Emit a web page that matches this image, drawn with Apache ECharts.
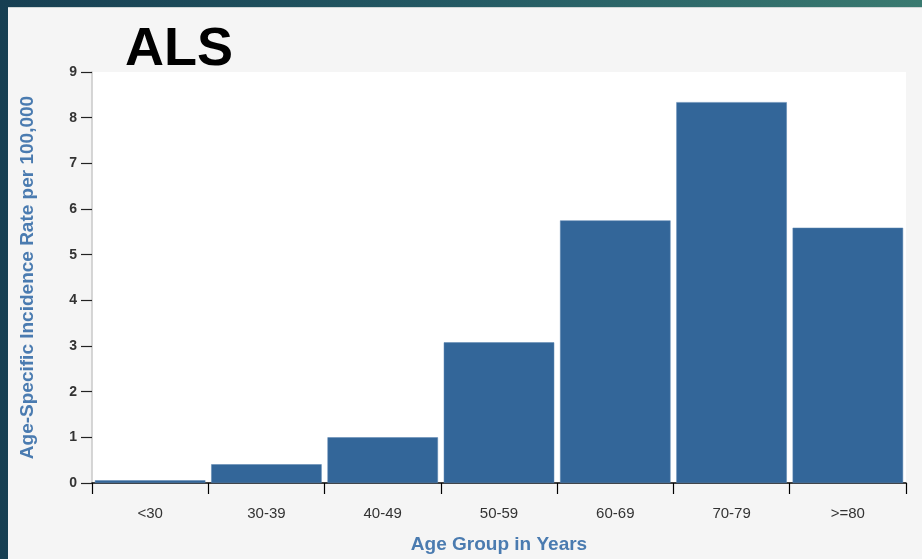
<!DOCTYPE html>
<html>
<head>
<meta charset="utf-8">
<script src="https://cdn.jsdelivr.net/npm/echarts@6/dist/echarts.min.js"></script>
<style>
html,body{margin:0;padding:0;width:922px;height:559px;overflow:hidden;}
body{background:linear-gradient(90deg,#173f52 0%,#245a64 50%,#3a7a70 100%);}
#panel{position:absolute;left:8px;top:7px;width:914px;height:552px;background:#f5f5f5;border-top:1px solid #cfd6d6;}
#chart{position:absolute;left:0;top:0;width:922px;height:559px;}
</style>
</head>
<body>
<div id="panel"></div>
<div id="chart"></div>
<script>
const categories = ['<30','30-39','40-49','50-59','60-69','70-79','>=80'];
const rates = [0.06, 0.41, 1.0, 3.08, 5.75, 8.34, 5.59];
const yTicks = [0,1,2,3,4,5,6,7,8,9];

const chart = echarts.init(document.getElementById('chart'), null, {renderer:'canvas'});
const font = '"Liberation Sans", Arial, Helvetica, sans-serif';
chart.setOption({
  backgroundColor: 'transparent',
  animation: false,
  textStyle: {fontFamily: font},
  title: {
    text: 'ALS', left: 120, top: 18,
    textStyle: {fontSize: 54, fontWeight: 'bold', color: '#000', fontFamily: font}
  },
  grid: {left: 92, right: 16, top: 72, bottom: 76, show: true, backgroundColor: '#ffffff', borderWidth: 0, outerBoundsMode: 'none', containLabel: false},
  xAxis: {
    type: 'category',
    data: categories,
    name: 'Age Group in Years',
    nameLocation: 'middle',
    nameGap: 52,
    nameTextStyle: {fontSize: 19, fontWeight: 'bold', color: '#4a7bb0', fontFamily: font},
    axisLine: {lineStyle: {color: '#000', width: 1.5}},
    axisTick: {show: true, alignWithLabel: false, length: 11, lineStyle: {color: '#000', width: 1.2}},
    axisLabel: {fontSize: 15, color: '#333', margin: 23, fontFamily: font}
  },
  yAxis: {
    type: 'value',
    min: yTicks[0], max: yTicks[yTicks.length-1], interval: 1,
    name: 'Age-Specific Incidence Rate per 100,000',
    nameLocation: 'middle',
    nameGap: 55,
    nameTextStyle: {fontSize: 19, fontWeight: 'bold', color: '#4a7bb0', fontFamily: font},
    axisLine: {show: true, lineStyle: {color: '#c8c8c8', width: 1.5}},
    axisTick: {show: true, length: 11, lineStyle: {color: '#222', width: 1.2}},
    axisLabel: {fontSize: 14, fontWeight: 'bold', color: '#333', margin: 15, fontFamily: font},
    splitLine: {show: false}
  },
  series: [{
    type: 'bar',
    data: rates,
    barCategoryGap: '5%',
    itemStyle: {color: '#336699', borderColor: '#5a85b0', borderWidth: 0.5}
  }]
});
</script>
</body>
</html>
